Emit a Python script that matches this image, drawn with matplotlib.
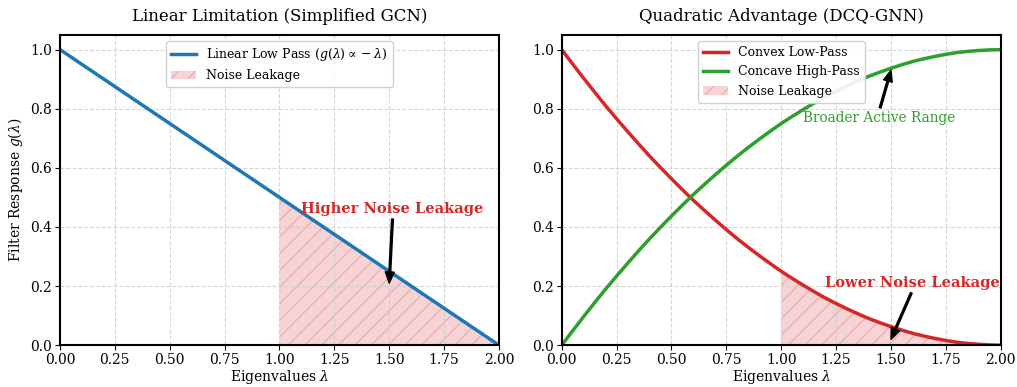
import numpy as np
import matplotlib
matplotlib.use("Agg")
import matplotlib.pyplot as plt

# eigenvalue grid and filter responses
lam = [0.00, 0.05, 0.10, 0.15, 0.20, 0.25, 0.30, 0.35, 0.40, 0.45,
       0.50, 0.55, 0.60, 0.65, 0.70, 0.75, 0.80, 0.85, 0.90, 0.95,
       1.00, 1.05, 1.10, 1.15, 1.20, 1.25, 1.30, 1.35, 1.40, 1.45,
       1.50, 1.55, 1.60, 1.65, 1.70, 1.75, 1.80, 1.85, 1.90, 1.95, 2.00]
linear_lp = [1.000, 0.975, 0.950, 0.925, 0.900, 0.875, 0.850, 0.825, 0.800, 0.775,
             0.750, 0.725, 0.700, 0.675, 0.650, 0.625, 0.600, 0.575, 0.550, 0.525,
             0.500, 0.475, 0.450, 0.425, 0.400, 0.375, 0.350, 0.325, 0.300, 0.275,
             0.250, 0.225, 0.200, 0.175, 0.150, 0.125, 0.100, 0.075, 0.050, 0.025, 0.000]
convex_lp = [1.000, 0.951, 0.903, 0.856, 0.810, 0.766, 0.723, 0.681, 0.640, 0.601,
             0.563, 0.526, 0.490, 0.456, 0.423, 0.391, 0.360, 0.331, 0.303, 0.276,
             0.250, 0.226, 0.203, 0.181, 0.160, 0.141, 0.123, 0.106, 0.090, 0.076,
             0.063, 0.051, 0.040, 0.031, 0.023, 0.016, 0.010, 0.006, 0.003, 0.001, 0.000]
concave_hp = [0.000, 0.049, 0.097, 0.144, 0.190, 0.234, 0.277, 0.319, 0.360, 0.399,
              0.437, 0.474, 0.510, 0.544, 0.577, 0.609, 0.640, 0.669, 0.697, 0.724,
              0.750, 0.774, 0.797, 0.819, 0.840, 0.859, 0.877, 0.894, 0.910, 0.924,
              0.937, 0.949, 0.960, 0.969, 0.977, 0.984, 0.990, 0.994, 0.997, 0.999, 1.000]
x_ticks = [0.0, 0.25, 0.5, 0.75, 1.0, 1.25, 1.5, 1.75, 2.0]

plt.rcParams['font.family'] = 'DejaVu Serif'
plt.rcParams['mathtext.fontset'] = 'dejavuserif'

BLUE = '#1f77b4'
RED = '#d62728'
GREEN = '#2ca02c'

lam = np.array(lam)
noise = lam >= 1.0
arrow = dict(facecolor='black', edgecolor='black', shrink=0.0,
             width=1.3, headwidth=6.5, headlength=8)

fig, (ax1, ax2) = plt.subplots(1, 2, figsize=(10.17, 3.87), dpi=100)
fig.subplots_adjust(left=0.059, right=0.984, bottom=0.108, top=0.91, wspace=0.143)

# left panel
ax1.plot(lam, linear_lp, color=BLUE, lw=2.5, label=r'Linear Low Pass ($g(\lambda) \propto -\lambda$)')
ax1.fill_between(lam, linear_lp, where=noise, facecolor=RED, edgecolor=RED, alpha=0.2,
                 hatch='//', lw=0, label='Noise Leakage')
ax1.annotate('Higher Noise Leakage', xy=(1.5, 0.21), xytext=(1.1, 0.46),
             color=RED, fontsize=10.5, fontweight='bold', va='center', arrowprops=arrow)
ax1.set_title('Linear Limitation (Simplified GCN)', fontsize=12, pad=10)
ax1.set_ylabel(r'Filter Response $g(\lambda)$', fontsize=10)

# right panel
ax2.plot(lam, convex_lp, color=RED, lw=2.5, label='Convex Low-Pass')
ax2.plot(lam, concave_hp, color=GREEN, lw=2.5, label='Concave High-Pass')
ax2.fill_between(lam, convex_lp, where=noise, facecolor=RED, edgecolor=RED, alpha=0.2,
                 hatch='//', lw=0, label='Noise Leakage')
ax2.annotate('Lower Noise Leakage', xy=(1.5, 0.02), xytext=(1.2, 0.21),
             color=RED, fontsize=10.5, fontweight='bold', va='center', arrowprops=arrow)
ax2.annotate('Broader Active Range', xy=(1.5, 0.93), xytext=(1.1, 0.77),
             color=GREEN, fontsize=9.8, va='center', arrowprops=arrow)
ax2.set_title('Quadratic Advantage (DCQ-GNN)', fontsize=12, pad=10)

for ax in (ax1, ax2):
    ax.set_xlim(0, 2)
    ax.set_ylim(0, 1.05)
    ax.set_xticks(x_ticks)
    ax.set_xlabel(r'Eigenvalues $\lambda$', fontsize=10, labelpad=1)
    ax.tick_params(labelsize=10, pad=2)
    ax.grid(color='#cccccc', linestyle='--', lw=0.8, alpha=0.8)
    for s in ax.spines.values():
        s.set_linewidth(1.5)
    ax.legend(loc='upper center', fontsize=9, framealpha=0.9)

fig.savefig('out.png', dpi=100)
